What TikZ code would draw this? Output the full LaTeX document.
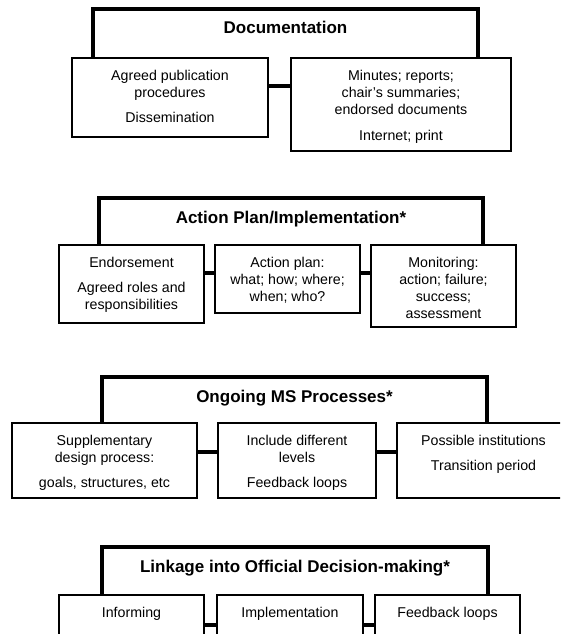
\documentclass[tikz,border=0pt]{standalone}
\usepackage{fontspec}
\setmainfont{Liberation Sans}
\newcommand{\boxtxt}[3]{\parbox[c][#2][t]{#1}{\fontsize{14.2}{17.2}\selectfont\centering\rule{0pt}{22pt}#3\par}}
\newcommand{\hdrtxt}[3]{\parbox[c][#2][t]{#1}{\fontsize{17}{20}\selectfont\bfseries\centering\rule{0pt}{25pt}#3\par}}
\newcommand{\pgap}{\\[8.5pt]}
\begin{document}
\begin{tikzpicture}[x=1pt,y=-1pt,
  hdrbox/.style={inner sep=0pt, outer sep=0pt, anchor=north west},
  hdrline/.style={line width=3.5pt, line join=miter},
  childbox/.style={draw, line width=1.8pt, fill=white, inner sep=0pt, outer sep=0pt, anchor=north west},
  conn/.style={line width=3.5pt}]
\useasboundingbox (0,0) rectangle (560,634);
\clip (0,0) rectangle (560,634);

% Section 1
\node[hdrbox] (h1) at (93,9) {\hdrtxt{385pt}{49pt}{Documentation}};
\draw[hdrline] (h1.south west) |- (h1.north) -| (h1.south east);
\node[childbox] (s1a) at (72,58) {\boxtxt{196pt}{79pt}{Agreed publication\\procedures\pgap Dissemination}};
\node[childbox] (s1b) at (291,58) {\boxtxt{220pt}{93pt}{Minutes; reports;\\chair\char"27{}s summaries;\\endorsed documents\pgap Internet; print}};
\draw[conn] ([yshift=-28pt]s1a.north east) -- ([yshift=-28pt]s1b.north west);

% Section 2
\node[hdrbox] (h2) at (99,198) {\hdrtxt{384pt}{47pt}{Action Plan/Implementation*}};
\draw[hdrline] (h2.south west) |- (h2.north) -| (h2.south east);
\node[childbox] (s2a) at (59,245) {\boxtxt{145pt}{78pt}{Endorsement\pgap Agreed roles and\\responsibilities}};
\node[childbox] (s2b) at (215,245) {\boxtxt{145pt}{68pt}{Action plan:\\what; how; where;\\when; who?}};
\node[childbox] (s2c) at (371,245) {\boxtxt{145pt}{82pt}{Monitoring:\\action; failure;\\success;\\assessment}};
\draw[conn] ([yshift=-28pt]s2a.north east) -- ([yshift=-28pt]s2b.north west);
\draw[conn] ([yshift=-28pt]s2b.north east) -- ([yshift=-28pt]s2c.north west);

% Section 3
\node[hdrbox] (h3) at (102,377) {\hdrtxt{385pt}{46pt}{Ongoing MS Processes*}};
\draw[hdrline] (h3.south west) |- (h3.north) -| (h3.south east);
\node[childbox] (s3a) at (12,423) {\boxtxt{185pt}{75pt}{Supplementary\\design process:\pgap goals, structures, etc}};
\node[childbox] (s3b) at (218,423) {\boxtxt{158pt}{75pt}{Include different\\levels\pgap Feedback loops}};
\node[childbox] (s3c) at (397,423) {\boxtxt{173pt}{75pt}{Possible institutions\pgap Transition period}};
\draw[conn] ([yshift=-29pt]s3a.north east) -- ([yshift=-29pt]s3b.north west);
\draw[conn] ([yshift=-29pt]s3b.north east) -- ([yshift=-29pt]s3c.north west);

% Section 4
\node[hdrbox] (h4) at (102,547) {\hdrtxt{386pt}{48pt}{Linkage into Official Decision-making*}};
\draw[hdrline] (h4.south west) |- (h4.north) -| (h4.south east);
\node[childbox] (s4a) at (59,595) {\boxtxt{145pt}{80pt}{Informing}};
\node[childbox] (s4b) at (217,595) {\boxtxt{146pt}{80pt}{Implementation}};
\node[childbox] (s4c) at (375,595) {\boxtxt{145pt}{80pt}{Feedback loops}};
\draw[conn] ([yshift=-30pt]s4a.north east) -- ([yshift=-30pt]s4b.north west);
\draw[conn] ([yshift=-30pt]s4b.north east) -- ([yshift=-30pt]s4c.north west);
\end{tikzpicture}
\end{document}
